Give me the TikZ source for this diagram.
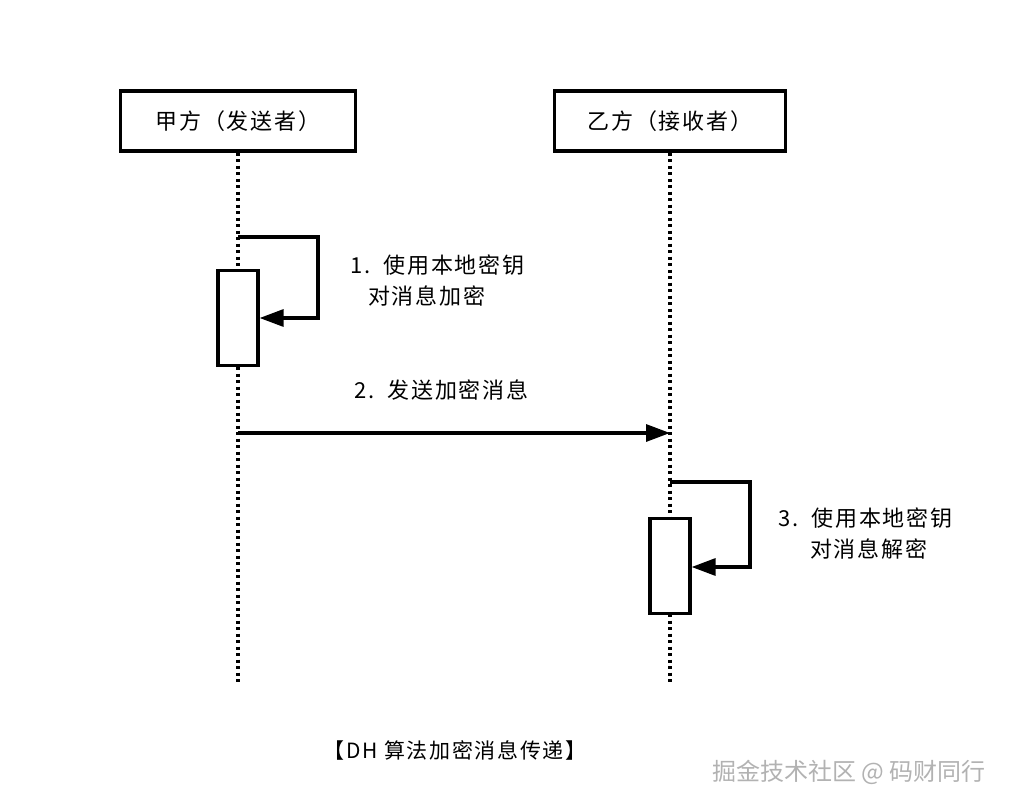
\documentclass[tikz,border=0pt]{standalone}
\usepackage{fontspec}
\setmainfont{Noto Sans CJK SC}
\usetikzlibrary{arrows.meta}
\newcommand{\myf}[1]{\fontsize{#1}{#1}\selectfont\addfontfeatures{LetterSpace=8}}
\begin{document}
\begin{tikzpicture}[x=1pt,y=-1pt,
  actor/.style={draw,line width=3.2pt,minimum width=235pt,minimum height=60pt,font=\myf{22}},
  life/.style={line width=3.2pt,dash pattern=on 3pt off 3.5pt},
  act/.style={draw,fill=white,line width=3.2pt,minimum width=40pt,minimum height=95pt,inner sep=0pt},
  msg/.style={line width=3.2pt,-{Triangle[length=24pt,width=17pt]}},
  lab/.style={font=\myf{22},anchor=west,inner sep=0pt}]
\useasboundingbox (0,0) rectangle (1014,808);
\node[actor] (A) at (238,121) {甲方（发送者）};
\node[actor,minimum width=231pt] (B) at (670,121) {乙方（接收者）};
\coordinate (Aend) at (238,685);
\coordinate (Bend) at (670,685);
\draw[life] (A.south) -- (Aend);
\draw[life] (B.south) -- (Bend);
\node[act] (a1) at (238,318) {};
\node[act] (b1) at (670,566) {};
\coordinate (l1) at (238,237);
\coordinate (l1r) at (318,237);
\coordinate (l1b) at (318,318);
\draw[msg] (l1) -- (l1r) -- (l1b) -- (a1.east);
\coordinate (l3) at (670,482);
\coordinate (l3r) at (750,482);
\coordinate (l3b) at (750,567);
\draw[msg] (l3) -- (l3r) -- (l3b) -- (b1.east |- l3b);
\coordinate (m1) at (238,433);
\coordinate (m2) at (670,433);
\draw[msg] (m1) -- (m2);
\node[lab] (t1) at (350,265) {1.\ \ 使用本地密钥};
\node[lab] (t1b) at (368,296) {对消息加密};
\node[lab] (t2) at (354,390) {2.\ \ 发送加密消息};
\node[lab] (t3) at (778,518) {3.\ \ 使用本地密钥};
\node[lab] (t3b) at (810,549) {对消息解密};
\node[font=\myf{21}] (cap) at (455,750) {【DH 算法加密消息传递】};
\node[font=\fontsize{24}{24}\selectfont,text=gray!60] (wm) at (849,772) {掘金技术社区 @ 码财同行};
\end{tikzpicture}
\end{document}
